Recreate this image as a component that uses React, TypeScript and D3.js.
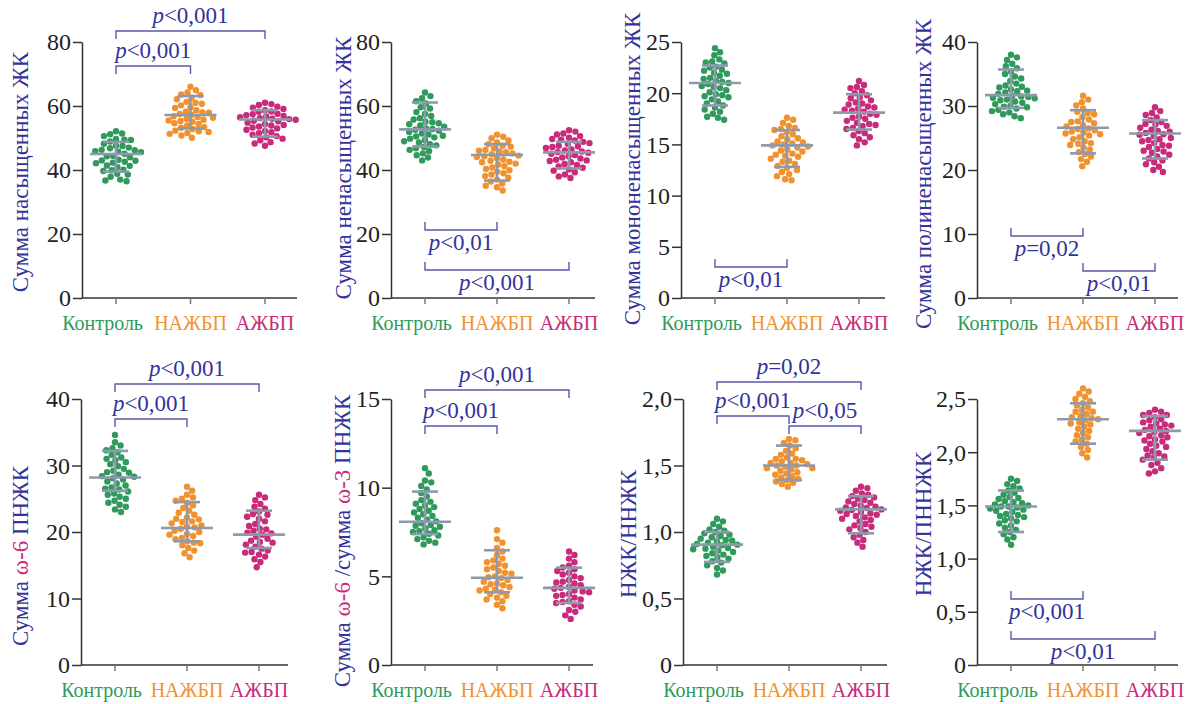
import { useEffect, useRef } from "react";
import * as d3 from "d3";

const categories = ["Контроль", "НАЖБП", "АЖБП"];
const groupColors = ["#2f9a5c", "#f0922f", "#c92a7a"];

// Сумма насыщенных ЖК
const satK = [52.1, 51.4, 51.2, 50.6, 49.7, 49.5, 49.4, 48.9, 48.2, 47.6, 47.5, 46.8, 46.3, 46.2, 45.7, 45.6, 45.1, 44.4, 44.3, 44.0, 43.2, 43.0, 42.9, 42.6, 42.1, 41.4, 41.3, 40.9, 40.1, 39.9, 39.7, 38.8, 38.6, 37.9, 37.0, 36.7, 36.5, 45.9, 47.0, 42.3];
const satN = [66.0, 64.9, 64.2, 63.6, 63.4, 62.6, 62.1, 61.3, 61.0, 60.2, 59.6, 59.4, 58.7, 58.2, 58.0, 57.5, 57.3, 56.8, 56.6, 56.0, 55.7, 55.5, 55.3, 54.6, 54.4, 53.9, 53.4, 53.2, 52.8, 52.3, 52.1, 51.9, 51.6, 51.3, 50.8, 50.1, 57.9, 56.3, 55.1, 60.7];
const satA = [61.0, 60.6, 60.3, 59.8, 59.5, 59.1, 58.7, 58.3, 58.2, 57.6, 57.1, 56.9, 56.5, 56.2, 56.0, 55.7, 55.4, 55.2, 54.8, 54.4, 54.1, 53.9, 53.3, 53.0, 52.6, 52.2, 51.8, 51.5, 51.0, 50.6, 50.2, 49.8, 49.3, 48.7, 48.3, 47.6, 55.9, 57.4, 53.6, 56.7];
// Сумма ненасыщенных ЖК
const unsK = [64.2, 63.1, 62.4, 61.5, 60.8, 59.6, 59.2, 58.1, 57.5, 56.9, 56.2, 55.8, 55.1, 54.6, 54.3, 53.9, 53.5, 53.0, 52.8, 52.3, 51.9, 51.4, 51.1, 50.7, 50.2, 49.8, 49.4, 49.0, 48.6, 48.1, 47.7, 47.2, 46.8, 46.3, 45.9, 45.2, 44.6, 43.9, 43.0, 52.6, 54.9, 50.5];
const unsN = [51.0, 50.4, 49.9, 49.2, 48.6, 48.1, 47.6, 47.3, 46.8, 46.3, 46.0, 45.6, 45.2, 44.9, 44.5, 44.1, 43.7, 43.3, 42.9, 42.4, 42.0, 41.7, 41.2, 40.8, 40.3, 39.9, 39.5, 39.0, 38.6, 38.1, 37.6, 37.0, 36.4, 35.8, 35.1, 34.6, 33.6, 44.3, 45.8, 42.6];
const unsA = [52.4, 52.0, 51.4, 51.1, 50.6, 50.1, 49.7, 49.2, 48.8, 48.4, 48.1, 47.6, 47.2, 46.9, 46.4, 46.1, 45.8, 45.4, 45.1, 44.7, 44.3, 43.9, 43.6, 43.2, 42.8, 42.4, 41.9, 41.6, 41.1, 40.7, 40.2, 39.8, 39.3, 38.6, 38.0, 37.5, 45.6, 47.4, 43.0, 49.5];
// Сумма мононенасыщенных ЖК
const monoK = [24.4, 24.0, 23.7, 23.3, 23.1, 22.9, 22.6, 22.5, 22.2, 22.0, 21.9, 21.7, 21.5, 21.4, 21.2, 21.0, 20.9, 20.7, 20.5, 20.3, 20.1, 19.9, 19.8, 19.6, 19.4, 19.2, 19.0, 18.8, 18.6, 18.4, 18.2, 18.0, 17.7, 17.6, 17.4, 21.1, 20.6, 22.3, 19.7, 23.0];
const monoN = [17.6, 17.4, 17.1, 16.8, 16.6, 16.4, 16.2, 16.0, 15.8, 15.6, 15.5, 15.3, 15.1, 15.0, 14.8, 14.7, 14.5, 14.3, 14.1, 14.0, 13.8, 13.6, 13.4, 13.3, 13.1, 12.9, 12.7, 12.5, 12.3, 12.1, 11.9, 11.6, 11.5, 14.9, 15.2, 13.9, 16.5, 14.4];
const monoA = [21.2, 20.8, 20.6, 20.5, 20.2, 20.0, 19.8, 19.6, 19.5, 19.3, 19.1, 18.9, 18.7, 18.5, 18.4, 18.2, 18.0, 17.9, 17.7, 17.5, 17.3, 17.1, 17.0, 16.8, 16.6, 16.5, 16.3, 16.1, 15.9, 15.7, 15.5, 15.2, 14.9, 18.3, 17.6, 19.0, 16.9, 18.6];
// Сумма полиненасыщенных ЖК
const polyK = [38.0, 37.6, 37.2, 36.6, 36.2, 35.9, 35.4, 35.0, 34.6, 34.3, 33.9, 33.5, 33.2, 32.9, 32.6, 32.4, 32.1, 31.9, 31.6, 31.4, 31.2, 31.0, 30.7, 30.5, 30.3, 30.0, 29.8, 29.6, 29.4, 29.2, 29.0, 28.7, 28.4, 28.1, 31.5, 30.9, 32.3, 33.0, 29.9, 31.3];
const polyN = [31.6, 31.0, 30.6, 30.1, 29.6, 29.1, 28.7, 28.3, 27.9, 27.6, 27.3, 27.0, 26.8, 26.5, 26.2, 25.9, 25.6, 25.4, 25.1, 24.8, 24.5, 24.2, 23.9, 23.5, 23.2, 22.8, 22.5, 22.1, 21.7, 21.3, 20.6, 26.4, 27.5, 25.7, 24.1, 28.9, 26.0];
const polyA = [29.8, 29.2, 28.9, 28.6, 28.2, 27.8, 27.5, 27.2, 26.9, 26.6, 26.3, 26.1, 25.8, 25.6, 25.3, 25.0, 24.8, 24.5, 24.2, 23.9, 23.6, 23.3, 23.0, 22.7, 22.4, 22.1, 21.8, 21.5, 21.2, 20.9, 20.5, 20.0, 19.7, 25.5, 26.0, 24.7, 22.9, 27.1, 23.8];
// Сумма ω-6 ПНЖК
const w6K = [34.6, 33.5, 33.0, 32.6, 32.3, 32.0, 31.6, 31.2, 30.8, 30.5, 30.2, 29.9, 29.5, 29.2, 28.9, 28.6, 28.3, 28.1, 27.9, 27.6, 27.3, 27.0, 26.7, 26.4, 26.1, 25.8, 25.6, 25.3, 25.0, 24.7, 24.4, 24.1, 23.8, 23.4, 23.0, 28.4, 29.0, 26.5, 31.0];
const w6N = [26.8, 26.2, 25.6, 25.2, 25.0, 24.7, 24.4, 24.0, 23.6, 23.2, 22.9, 22.6, 22.2, 21.9, 21.6, 21.3, 21.0, 20.8, 20.5, 20.2, 20.0, 19.7, 19.4, 19.1, 18.9, 18.6, 18.3, 18.0, 17.6, 17.2, 16.8, 16.2, 20.7, 21.5, 19.6, 22.0, 18.4];
const w6A = [25.6, 25.2, 24.8, 24.2, 23.8, 23.5, 23.1, 22.7, 22.3, 22.0, 21.6, 21.2, 20.9, 20.5, 20.2, 19.9, 19.6, 19.3, 19.0, 18.7, 18.4, 18.1, 17.8, 17.5, 17.2, 16.9, 16.6, 16.3, 15.9, 15.5, 14.7, 19.8, 20.4, 18.5, 22.6, 17.0];
// Сумма ω-6 / сумма ω-3 ПНЖК
const ratK = [11.1, 10.8, 10.4, 10.3, 10.1, 9.9, 9.7, 9.5, 9.3, 9.1, 9.0, 8.9, 8.7, 8.6, 8.5, 8.4, 8.2, 8.1, 8.0, 7.9, 7.8, 7.7, 7.6, 7.5, 7.4, 7.3, 7.2, 7.1, 7.0, 6.9, 6.8, 8.3, 7.85, 8.8, 7.55, 9.2];
const ratN = [7.6, 7.1, 6.9, 6.6, 6.4, 6.2, 6.0, 5.8, 5.7, 5.6, 5.4, 5.3, 5.2, 5.0, 4.9, 4.8, 4.7, 4.6, 4.5, 4.4, 4.3, 4.2, 4.1, 4.0, 3.9, 3.8, 3.7, 3.6, 3.4, 3.2, 4.95, 5.5, 4.55, 5.9, 4.25, 5.15];
const ratA = [6.4, 6.2, 6.0, 5.8, 5.6, 5.5, 5.4, 5.2, 5.1, 5.0, 4.9, 4.8, 4.7, 4.6, 4.5, 4.4, 4.3, 4.2, 4.1, 4.0, 3.9, 3.8, 3.7, 3.6, 3.5, 3.4, 3.3, 3.1, 3.0, 2.8, 2.6, 4.35, 4.65, 3.95, 5.3, 3.55, 4.15];
// НЖК/ННЖК
const nnK = [1.10, 1.08, 1.06, 1.04, 1.02, 1.01, 1.00, 0.99, 0.97, 0.96, 0.95, 0.94, 0.93, 0.92, 0.91, 0.90, 0.89, 0.88, 0.87, 0.86, 0.85, 0.84, 0.83, 0.82, 0.81, 0.80, 0.78, 0.77, 0.75, 0.73, 0.71, 0.68, 0.905, 0.935, 0.875, 0.98];
const nnN = [1.70, 1.69, 1.67, 1.65, 1.63, 1.61, 1.59, 1.58, 1.56, 1.55, 1.54, 1.53, 1.52, 1.51, 1.50, 1.49, 1.48, 1.47, 1.46, 1.45, 1.44, 1.43, 1.42, 1.41, 1.40, 1.39, 1.38, 1.37, 1.36, 1.34, 1.50, 1.52, 1.48, 1.55];
const nnA = [1.34, 1.33, 1.31, 1.29, 1.28, 1.27, 1.26, 1.25, 1.24, 1.22, 1.21, 1.20, 1.19, 1.18, 1.17, 1.16, 1.15, 1.14, 1.13, 1.12, 1.11, 1.10, 1.09, 1.08, 1.06, 1.05, 1.04, 1.03, 1.02, 1.00, 0.98, 0.96, 0.94, 0.92, 0.89, 1.165, 1.185, 1.135, 1.23];
// НЖК/ПННЖК
const npK = [1.75, 1.73, 1.70, 1.68, 1.66, 1.64, 1.62, 1.60, 1.58, 1.56, 1.54, 1.52, 1.51, 1.50, 1.49, 1.48, 1.47, 1.45, 1.44, 1.42, 1.41, 1.39, 1.38, 1.36, 1.35, 1.33, 1.31, 1.29, 1.27, 1.25, 1.23, 1.20, 1.18, 1.13, 1.49, 1.53, 1.46, 1.40, 1.57];
const npN = [2.60, 2.57, 2.55, 2.52, 2.50, 2.48, 2.46, 2.44, 2.42, 2.40, 2.38, 2.36, 2.34, 2.32, 2.31, 2.30, 2.28, 2.26, 2.24, 2.22, 2.20, 2.18, 2.16, 2.14, 2.12, 2.10, 2.08, 2.05, 2.02, 1.99, 1.95, 2.33, 2.27, 2.38];
const npA = [2.40, 2.38, 2.37, 2.35, 2.33, 2.31, 2.30, 2.28, 2.27, 2.25, 2.24, 2.22, 2.21, 2.19, 2.18, 2.16, 2.14, 2.12, 2.10, 2.08, 2.06, 2.05, 2.03, 2.01, 1.99, 1.97, 1.95, 1.93, 1.90, 1.88, 1.85, 1.82, 1.80, 2.26, 2.20, 2.15, 2.35, 2.11, 1.96];

// [центр, нижняя граница, верхняя граница] для каждой группы
const satStats = [[45.0, 39.5, 48.8], [57.2, 53.0, 63.1], [55.8, 50.4, 58.7]];
const unsStats = [[52.7, 47.3, 61.1], [44.7, 36.7, 48.1], [45.5, 40.5, 48.8]];
const monoStats = [[21.0, 18.8, 22.7], [14.9, 12.8, 16.4], [18.1, 16.45, 19.9]];
const polyStats = [[31.7, 29.7, 35.7], [26.6, 22.6, 29.35], [25.7, 21.8, 27.8]];
const w6Stats = [[28.2, 26.2, 32.2], [20.6, 18.6, 24.5], [19.6, 17.6, 23.2]];
const ratStats = [[8.08, 7.38, 9.78], [4.92, 4.1, 6.47], [4.35, 3.5, 5.49]];
const nnStats = [[0.905, 0.775, 1.0], [1.5, 1.39, 1.65], [1.17, 0.99, 1.27]];
const npStats = [[1.49, 1.25, 1.64], [2.31, 2.08, 2.46], [2.2, 1.93, 2.34]];

const ticks80 = [0, 20, 40, 60, 80];
const ticks25 = [0, 5, 10, 15, 20, 25];
const ticks40 = [0, 10, 20, 30, 40];
const ticks15 = [0, 5, 10, 15];
const ticks2 = [0, 0.5, 1, 1.5, 2];
const ticks25f = [0, 0.5, 1, 1.5, 2, 2.5];

type Bracket = { a: number; b: number; y: number; up: boolean; label: [string, string] };

const satBrackets: Bracket[] = [
    { a: 0, b: 1, y: 66, up: false, label: ["p", "<0,001"] },
    { a: 0, b: 2, y: 31, up: false, label: ["p", "<0,001"] },
];
const unsBrackets: Bracket[] = [
    { a: 0, b: 1, y: 230, up: true, label: ["p", "<0,01"] },
    { a: 0, b: 2, y: 270, up: true, label: ["p", "<0,001"] },
];
const monoBrackets: Bracket[] = [{ a: 0, b: 1, y: 267, up: true, label: ["p", "<0,01"] }];
const polyBrackets: Bracket[] = [
    { a: 0, b: 1, y: 236, up: true, label: ["p", "=0,02"] },
    { a: 1, b: 2, y: 271, up: true, label: ["p", "<0,01"] },
];
const w6Brackets: Bracket[] = [
    { a: 0, b: 1, y: 419, up: false, label: ["p", "<0,001"] },
    { a: 0, b: 2, y: 384, up: false, label: ["p", "<0,001"] },
];
const ratBrackets: Bracket[] = [
    { a: 0, b: 1, y: 426, up: false, label: ["p", "<0,001"] },
    { a: 0, b: 2, y: 390, up: false, label: ["p", "<0,001"] },
];
const nnBrackets: Bracket[] = [
    { a: 0, b: 1, y: 416, up: false, label: ["p", "<0,001"] },
    { a: 1, b: 2, y: 426, up: false, label: ["p", "<0,05"] },
    { a: 0, b: 2, y: 382, up: false, label: ["p", "=0,02"] },
];
const npBrackets: Bracket[] = [
    { a: 0, b: 1, y: 599, up: true, label: ["p", "<0,001"] },
    { a: 0, b: 2, y: 639, up: true, label: ["p", "<0,01"] },
];

const BLUE = "#33339b";
const MAG = "#c92a7a";

const panels = [
    { title: [["Сумма насыщенных ЖК", BLUE]], max: 80, ticks: ticks80, dec: 0, values: [satK, satN, satA], stats: satStats, brackets: satBrackets },
    { title: [["Сумма ненасыщенных ЖК", BLUE]], max: 80, ticks: ticks80, dec: 0, values: [unsK, unsN, unsA], stats: unsStats, brackets: unsBrackets },
    { title: [["Сумма мононенасыщенных ЖК", BLUE]], max: 25, ticks: ticks25, dec: 0, values: [monoK, monoN, monoA], stats: monoStats, brackets: monoBrackets },
    { title: [["Сумма полиненасыщенных ЖК", BLUE]], max: 40, ticks: ticks40, dec: 0, values: [polyK, polyN, polyA], stats: polyStats, brackets: polyBrackets },
    { title: [["Сумма ", BLUE], ["ω-6", MAG], [" ПНЖК", BLUE]], max: 40, ticks: ticks40, dec: 0, values: [w6K, w6N, w6A], stats: w6Stats, brackets: w6Brackets },
    { title: [["Сумма ", BLUE], ["ω-6", MAG], [" /сумма ", BLUE], ["ω-3", MAG], [" ПНЖК", BLUE]], max: 15, ticks: ticks15, dec: 0, values: [ratK, ratN, ratA], stats: ratStats, brackets: ratBrackets },
    { title: [["НЖК/ННЖК", BLUE]], max: 2, ticks: ticks2, dec: 1, values: [nnK, nnN, nnA], stats: nnStats, brackets: nnBrackets },
    { title: [["НЖК/ПННЖК", BLUE]], max: 2.5, ticks: ticks25f, dec: 1, values: [npK, npN, npA], stats: npStats, brackets: npBrackets },
];

// layout
const axisX = [82, 391, 681, 977, 81, 391, 683, 977];
const rowTop = [42, 399];
const rowBottom = [298, 665];
const catRight = [183, 178, 178, 178, 178, 178, 178, 178];
const axisLen = [215, 204, 204, 201, 207, 202, 204, 201];
const titleX = [20, 343, 632, 923, 20, 342, 628, 923];
const titleY = [172, 168, 169, 174, 556, 541, 534, 524];

const FONT = "Liberation Serif, serif";
const R = 3.2;

function swarm(py: number[], d: number): number[] {
    const order = py.map((_, i) => i).sort((a, b) => py[a] - py[b]);
    const xs = new Array(py.length).fill(0);
    const placed: number[] = [];
    for (const i of order) {
        const y = py[i];
        const near = placed.filter((j) => Math.abs(py[j] - y) < d);
        const cands = [0];
        near.forEach((j) => {
            const dx = Math.sqrt(d * d - (py[j] - y) ** 2);
            cands.push(xs[j] + dx, xs[j] - dx);
        });
        cands.sort((a, b) => Math.abs(a) - Math.abs(b));
        const ok = cands.find((c) => near.every((j) => (xs[j] - c) ** 2 + (py[j] - y) ** 2 >= d * d - 0.01));
        xs[i] = ok ?? 0;
        placed.push(i);
    }
    return xs;
}

export default function App() {
    const svgRef = useRef<SVGSVGElement | null>(null);

    useEffect(() => {
        if (!svgRef.current) return;
        document.body.style.margin = "0";
        const root = d3.select(svgRef.current);
        root.selectAll("*").remove();
        root.append("rect").attr("width", 1191).attr("height", 704).attr("fill", "#fff");

        panels.forEach((p, pi) => {
            const row = pi < 4 ? 0 : 1;
            const ax = axisX[pi];
            const top = rowTop[row];
            const bottom = rowBottom[row];
            const g = root.append("g").attr("font-family", FONT);

            const y = d3.scaleLinear().domain([0, p.max]).range([bottom, top]);
            const x = d3.scalePoint().domain(categories).range([ax + 34, ax + catRight[pi]]);

            const fmt = (v: number) => (v === 0 ? "0" : d3.format(p.dec ? ".1f" : "d")(v).replace(".", ","));

            // Y axis
            const yAxis = g
                .append("g")
                .attr("transform", `translate(${ax},0)`)
                .call(d3.axisLeft(y).tickValues(p.ticks).tickSize(9).tickSizeOuter(0).tickPadding(2).tickFormat((d) => fmt(+d)));
            yAxis.attr("font-family", FONT);
            yAxis.select(".domain").attr("stroke", "#333").attr("stroke-width", 1.5);
            yAxis.selectAll(".tick line").attr("stroke", "#333").attr("stroke-width", 1.5);
            yAxis.selectAll("text").attr("font-size", 24).attr("fill", "#222").attr("dy", "0.33em");

            // X axis
            g.append("line")
                .attr("x1", ax)
                .attr("x2", ax + axisLen[pi])
                .attr("y1", bottom)
                .attr("y2", bottom)
                .attr("stroke", "#333")
                .attr("stroke-width", 1.5);
            g.selectAll(".xtick")
                .data(categories)
                .enter()
                .append("line")
                .attr("x1", (d) => x(d) || 0)
                .attr("x2", (d) => x(d) || 0)
                .attr("y1", bottom)
                .attr("y2", bottom + 6)
                .attr("stroke", "#777")
                .attr("stroke-width", 1.5);
            // first label is pushed left so it does not run into the second
            g.selectAll(".xlabel")
                .data(categories)
                .enter()
                .append("text")
                .attr("x", (d, i) => (x(d) || 0) + (i === 0 ? 27 : 0))
                .attr("y", bottom + 32)
                .attr("text-anchor", (_, i) => (i === 0 ? "end" : "middle"))
                .attr("font-size", 20)
                .attr("fill", (_, i) => groupColors[i])
                .text((d) => d);

            // Title
            const t = g
                .append("text")
                .attr("transform", `translate(${titleX[pi]},${titleY[pi]}) rotate(-90)`)
                .attr("text-anchor", "middle")
                .attr("dy", "0.33em")
                .attr("font-size", 23);
            p.title.forEach(([s, c]) => t.append("tspan").attr("fill", c).text(s));

            // Dots
            p.values.forEach((vals, gi) => {
                const py = vals.map((v) => y(v));
                const dx = swarm(py, 2 * R + 0.1);
                const cx = x(categories[gi]) || 0;
                g.selectAll(`.dot${gi}`)
                    .data(vals)
                    .enter()
                    .append("circle")
                    .attr("cx", (_, i) => cx + dx[i])
                    .attr("cy", (d) => y(d))
                    .attr("r", R)
                    .attr("fill", groupColors[gi]);
            });

            // Mean and spread bars
            p.stats.forEach(([c, lo, hi], gi) => {
                const cx = x(categories[gi]) || 0;
                const bar = g.append("g").attr("stroke", "#8d99ad").attr("stroke-width", 2.6);
                bar.append("line").attr("x1", cx).attr("x2", cx).attr("y1", y(lo)).attr("y2", y(hi));
                bar.append("line").attr("x1", cx - 26).attr("x2", cx + 26).attr("y1", y(c)).attr("y2", y(c));
                bar.append("line").attr("x1", cx - 13).attr("x2", cx + 13).attr("y1", y(lo)).attr("y2", y(lo));
                bar.append("line").attr("x1", cx - 13).attr("x2", cx + 13).attr("y1", y(hi)).attr("y2", y(hi));
            });

            // Significance brackets
            p.brackets.forEach((b) => {
                const x1 = x(categories[b.a]) || 0;
                const x2 = x(categories[b.b]) || 0;
                const tip = b.up ? b.y - 8 : b.y + 8;
                g.append("path")
                    .attr("d", `M${x1},${tip}V${b.y}H${x2}V${tip}`)
                    .attr("fill", "none")
                    .attr("stroke", "#5858a8")
                    .attr("stroke-width", 1.4);
                const lt = g
                    .append("text")
                    .attr("x", (x1 + x2) / 2)
                    .attr("y", b.up ? b.y + 20 : b.y - 8)
                    .attr("text-anchor", "middle")
                    .attr("font-size", 23)
                    .attr("fill", BLUE);
                lt.append("tspan").attr("font-style", "italic").text(b.label[0]);
                lt.append("tspan").text(b.label[1]);
            });
        });
    }, []);

    return <svg ref={svgRef} width={1191} height={704} style={{ display: "block" }} />;
}
